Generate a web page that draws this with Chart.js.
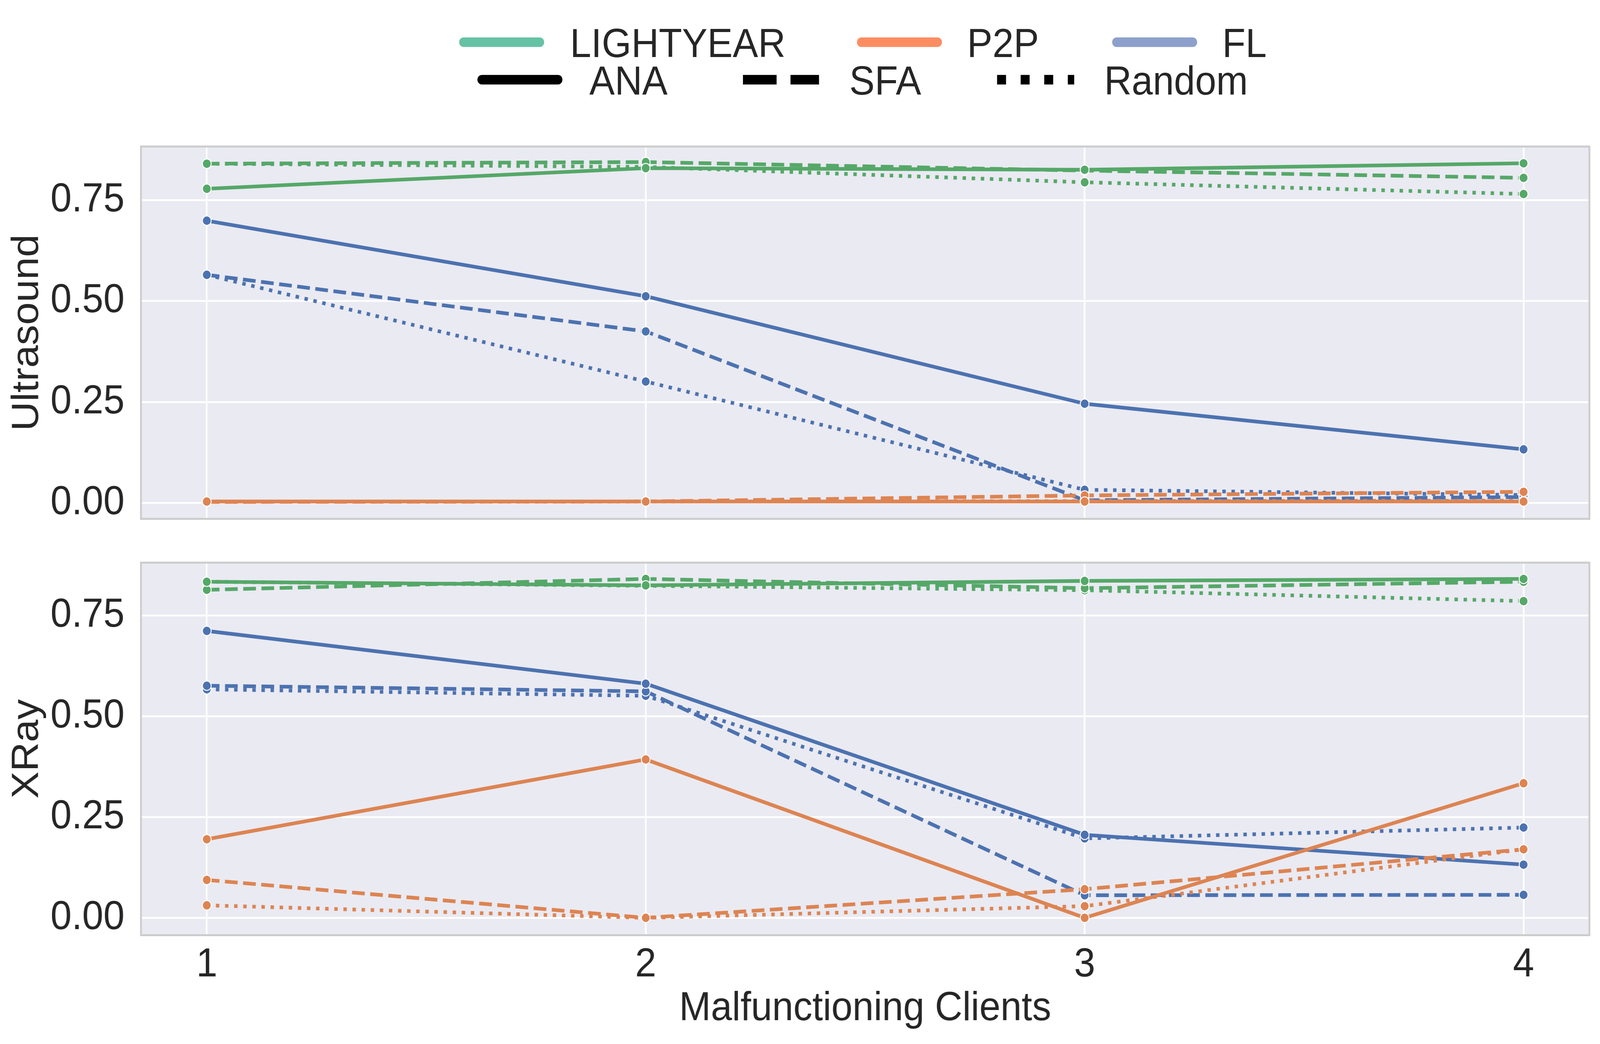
<!DOCTYPE html>
<html>
<head>
<meta charset="utf-8">
<script src="https://cdn.jsdelivr.net/npm/chart.js@4.4.1/dist/chart.umd.min.js"></script>
<style>
html, body { margin: 0; padding: 0; background: #ffffff; overflow: hidden; }
#stage { position: absolute; left: 0; top: 0; width: 4376px; height: 2672px; transform-origin: 0 0; background: #ffffff; }
#c1 { position: absolute; left: 0; top: 0; width: 4376px; height: 1390px; }
#c2 { position: absolute; left: 0; top: 1390px; width: 4376px; height: 1282px; }
#legend { position: absolute; left: 0; top: 0; }
#legend text { font-family: "Liberation Sans", Arial, sans-serif; font-size: 104px; fill: #262626; }
</style>
</head>
<body>
<div id="stage">
<canvas id="c1" width="4376" height="1390"></canvas>
<canvas id="c2" width="4376" height="1282"></canvas>
<svg id="legend" width="4376" height="300" xmlns="http://www.w3.org/2000/svg">
  <line x1="1268" y1="108" x2="1476" y2="108" stroke="#66c2a5" stroke-width="24.5" stroke-linecap="round"/>
  <text x="1559" y="146">LIGHTYEAR</text>
  <line x1="2356" y1="108" x2="2564" y2="108" stroke="#fc8d62" stroke-width="24.5" stroke-linecap="round"/>
  <text x="2645" y="146">P2P</text>
  <line x1="3054" y1="108" x2="3262" y2="108" stroke="#8da0cb" stroke-width="24.5" stroke-linecap="round"/>
  <text x="3343" y="146">FL</text>
  <line x1="1318" y1="204" x2="1526" y2="204" stroke="#000000" stroke-width="24.5" stroke-linecap="round"/>
  <text x="1612" y="242">ANA</text>
  <line x1="2032" y1="204" x2="2240" y2="204" stroke="#000000" stroke-width="24.5" stroke-linecap="butt" stroke-dasharray="92 38"/>
  <text x="2323" y="242">SFA</text>
  <line x1="2727" y1="204" x2="2938" y2="204" stroke="#000000" stroke-width="24.5" stroke-linecap="butt" stroke-dasharray="24.5 40"/>
  <text x="3020" y="242">Random</text>
</svg>
</div>
<script>
// ---------------- data ----------------
const clients = [1, 2, 3, 4];
const xTicks = [1, 2, 3, 4];
const yTicks = [0, 0.25, 0.5, 0.75];
const methods = ['LIGHTYEAR', 'P2P', 'FL'];
const strategies = ['ANA', 'SFA', 'Random'];

// Ultrasound panel
const usLightyearANA    = [0.778, 0.829, 0.825, 0.841];
const usLightyearSFA    = [0.840, 0.844, 0.823, 0.805];
const usLightyearRandom = [0.840, 0.832, 0.794, 0.765];
const usP2PANA          = [0.004, 0.004, 0.004, 0.004];
const usP2PSFA          = [0.003, 0.004, 0.019, 0.028];
const usP2PRandom       = [0.003, 0.004, 0.005, 0.006];
const usFLANA           = [0.699, 0.512, 0.246, 0.133];
const usFLSFA           = [0.565, 0.425, 0.007, 0.015];
const usFLRandom        = [0.565, 0.301, 0.033, 0.020];

// XRay panel
const xrLightyearANA    = [0.834, 0.825, 0.836, 0.841];
const xrLightyearSFA    = [0.814, 0.841, 0.818, 0.834];
const xrLightyearRandom = [0.834, 0.824, 0.813, 0.786];
const xrP2PANA          = [0.195, 0.393, 0.000, 0.334];
const xrP2PSFA          = [0.094, 0.000, 0.071, 0.170];
const xrP2PRandom       = [0.031, 0.000, 0.029, 0.170];
const xrFLANA           = [0.712, 0.581, 0.206, 0.132];
const xrFLSFA           = [0.576, 0.562, 0.056, 0.057];
const xrFLRandom        = [0.567, 0.551, 0.197, 0.224];

// ---------------- fit the 4376x2672 stage to the viewport ----------------
(function fitStage() {
  const W = 4376, H = 2672;
  const vw = window.innerWidth || W, vh = window.innerHeight || H;
  document.getElementById('stage').style.transform = 'scale(' + (vw / W) + ',' + (vh / H) + ')';
})();

// ---------------- styles ----------------
const COLORS = { LIGHTYEAR: '#55A868', P2P: '#DD8452', FL: '#4C72B0' };
const LW = 9.4;
const DASHES = { ANA: [], SFA: [3.7 * LW, 1.6 * LW], Random: [1 * LW, 1.65 * LW] };
const FONT = '"Liberation Sans", Arial, sans-serif';
const TEXT = '#262626';

function makeDataset(method, strategy, values) {
  const c = COLORS[method];
  return {
    label: method + ' ' + strategy,
    data: values.map((v, i) => ({ x: clients[i], y: v })),
    borderColor: c,
    backgroundColor: c,
    borderWidth: LW,
    borderDash: DASHES[strategy],
    borderCapStyle: 'butt',
    borderJoinStyle: 'round',
    pointRadius: 12,
    pointHoverRadius: 12,
    pointBorderWidth: 2.5,
    pointBorderColor: '#ffffff',
    pointBackgroundColor: c,
    tension: 0,
    fill: false
  };
}

const framePlugin = {
  id: 'frame',
  beforeDraw(chart) {
    const { ctx, chartArea: a } = chart;
    ctx.save();
    ctx.fillStyle = '#EAEAF2';
    ctx.fillRect(a.left, a.top, a.right - a.left, a.bottom - a.top);
    ctx.restore();
  },
  afterDraw(chart) {
    const { ctx, chartArea: a } = chart;
    ctx.save();
    ctx.strokeStyle = '#cccccc';
    ctx.lineWidth = 5;
    ctx.strokeRect(a.left, a.top, a.right - a.left, a.bottom - a.top);
    ctx.restore();
  }
};

function noPadding(s) {
  s.paddingTop = 0; s.paddingBottom = 0; s.paddingLeft = 0; s.paddingRight = 0;
}

function makeChart(canvasId, datasets, opts) {
  return new Chart(document.getElementById(canvasId), {
    type: 'line',
    data: { datasets },
    plugins: [framePlugin],
    options: {
      responsive: false,
      animation: false,
      devicePixelRatio: 1,
      layout: { padding: { top: opts.padTop, bottom: opts.padBottom, left: 0, right: 29 } },
      plugins: { legend: { display: false }, tooltip: { enabled: false } },
      scales: {
        x: {
          type: 'linear',
          min: 0.85,
          max: 4.15,
          afterBuildTicks: s => { s.ticks = xTicks.map(v => ({ value: v })); },
          afterFit: s => { s.height = opts.xHeight; noPadding(s); },
          grid: { color: '#ffffff', lineWidth: 4.5, drawTicks: false },
          border: { display: false },
          ticks: {
            display: opts.showX,
            autoSkip: false,
            maxRotation: 0,
            padding: 14,
            color: TEXT,
            font: { family: FONT, size: 104 },
            callback: v => String(v)
          },
          title: {
            display: opts.showX,
            text: 'Malfunctioning Clients',
            color: TEXT,
            font: { family: FONT, size: 104 },
            padding: { top: 0, bottom: 27 }
          }
        },
        y: {
          type: 'linear',
          min: opts.yMin,
          max: opts.yMax,
          afterBuildTicks: s => { s.ticks = yTicks.map(v => ({ value: v })); },
          afterFit: s => { s.width = 385.5; noPadding(s); },
          grid: { color: '#ffffff', lineWidth: 4.5, drawTicks: false },
          border: { display: false },
          ticks: {
            autoSkip: false,
            padding: 45,
            color: TEXT,
            font: { family: FONT, size: 104 },
            callback: v => Number(v).toFixed(2)
          },
          title: {
            display: true,
            text: opts.yTitle,
            color: TEXT,
            font: { family: FONT, size: 104 },
            padding: { top: 13, bottom: 0 }
          }
        }
      }
    }
  });
}

// green drawn on top (first dataset is drawn last)
const usDatasets = [
  makeDataset('LIGHTYEAR', 'ANA', usLightyearANA),
  makeDataset('LIGHTYEAR', 'SFA', usLightyearSFA),
  makeDataset('LIGHTYEAR', 'Random', usLightyearRandom),
  makeDataset('P2P', 'ANA', usP2PANA),
  makeDataset('P2P', 'SFA', usP2PSFA),
  makeDataset('P2P', 'Random', usP2PRandom),
  makeDataset('FL', 'ANA', usFLANA),
  makeDataset('FL', 'SFA', usFLSFA),
  makeDataset('FL', 'Random', usFLRandom)
];
const xrDatasets = [
  makeDataset('LIGHTYEAR', 'ANA', xrLightyearANA),
  makeDataset('LIGHTYEAR', 'SFA', xrLightyearSFA),
  makeDataset('LIGHTYEAR', 'Random', xrLightyearRandom),
  makeDataset('P2P', 'ANA', xrP2PANA),
  makeDataset('P2P', 'SFA', xrP2PSFA),
  makeDataset('P2P', 'Random', xrP2PRandom),
  makeDataset('FL', 'ANA', xrFLANA),
  makeDataset('FL', 'SFA', xrFLSFA),
  makeDataset('FL', 'Random', xrFLRandom)
];

makeChart('c1', usDatasets, {
  padTop: 375, padBottom: 62, xHeight: 0, showX: false,
  yMin: -0.039, yMax: 0.8825, yTitle: 'Ultrasound'
});
makeChart('c2', xrDatasets, {
  padTop: 50, padBottom: 0, xHeight: 278.5, showX: true,
  yMin: -0.0431, yMax: 0.8814, yTitle: 'XRay'
});
</script>
</body>
</html>
